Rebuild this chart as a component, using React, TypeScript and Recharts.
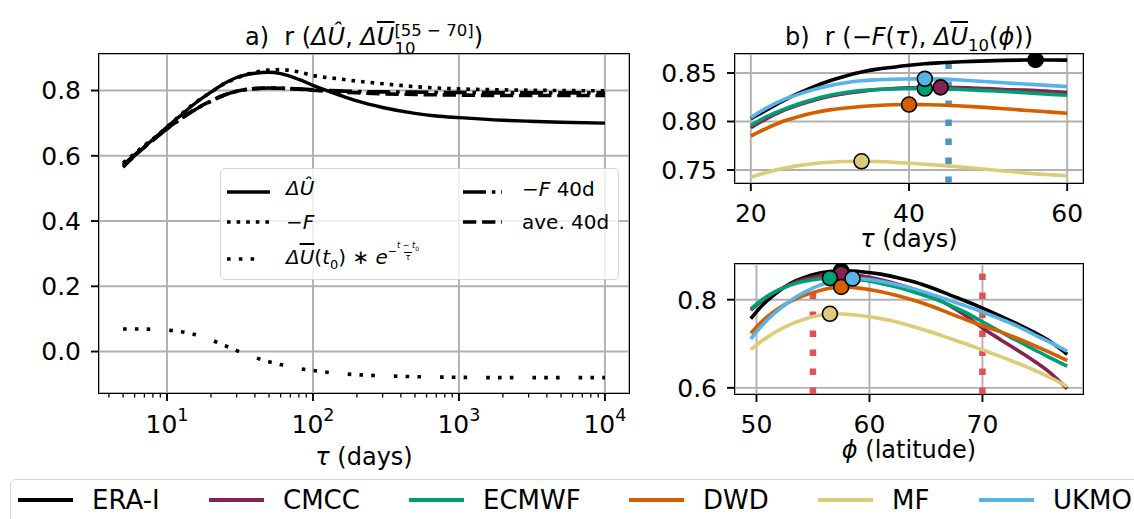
import React from 'react';
import { ComposedChart, Line, XAxis, YAxis, CartesianGrid, ReferenceLine } from 'recharts';

const FONT = "'DejaVu Sans', Verdana, sans-serif";

// ---------- Panel a ----------
const tauA = [5, 6, 7, 8, 10, 12, 15, 20, 25, 30, 40, 50, 60, 80, 100, 150, 200, 300, 500, 700, 1000, 2000, 3000, 5000, 10000];
const dUhat = [0.565, 0.6, 0.628, 0.65, 0.688, 0.718, 0.755, 0.795, 0.823, 0.84, 0.853, 0.856, 0.852, 0.834, 0.816, 0.787, 0.768, 0.748, 0.73, 0.722, 0.717, 0.709, 0.706, 0.703, 0.7];
const negF = [0.578, 0.607, 0.632, 0.652, 0.688, 0.72, 0.757, 0.795, 0.822, 0.838, 0.856, 0.863, 0.864, 0.857, 0.846, 0.836, 0.829, 0.821, 0.812, 0.808, 0.805, 0.802, 0.801, 0.8, 0.799];
const negF40 = [0.572, 0.603, 0.628, 0.648, 0.683, 0.708, 0.737, 0.767, 0.787, 0.798, 0.806, 0.808, 0.807, 0.805, 0.802, 0.799, 0.797, 0.796, 0.795, 0.794, 0.794, 0.793, 0.793, 0.793, 0.793];
const ave40 = [0.568, 0.6, 0.626, 0.647, 0.683, 0.709, 0.738, 0.768, 0.787, 0.798, 0.806, 0.808, 0.807, 0.804, 0.801, 0.796, 0.793, 0.79, 0.788, 0.787, 0.786, 0.785, 0.785, 0.785, 0.785];
const expDecay = [0.069, 0.069, 0.069, 0.068, 0.066, 0.062, 0.054, 0.036, 0.018, 0.003, -0.018, -0.031, -0.04, -0.052, -0.058, -0.067, -0.071, -0.074, -0.077, -0.078, -0.079, -0.08, -0.08, -0.08, -0.08];
const tauMajor = [10, 100, 1000, 10000];
const tauMinor = [4, 5, 6, 7, 8, 9, 20, 30, 40, 50, 60, 70, 80, 90, 200, 300, 400, 500, 600, 700, 800, 900, 2000, 3000, 4000, 5000, 6000, 7000, 8000, 9000];
const yTicksA = [0, 0.2, 0.4, 0.6, 0.8];

// ---------- Panel b ----------
const tauB = [20, 22, 24, 26, 28, 30, 32, 34, 36, 38, 40, 42, 44, 46, 48, 50, 52, 54, 56, 58, 60];
const rTauERA = [0.803, 0.812, 0.821, 0.829, 0.836, 0.842, 0.847, 0.851, 0.854, 0.856, 0.858, 0.8595, 0.8605, 0.8613, 0.862, 0.8625, 0.863, 0.8633, 0.8635, 0.8634, 0.8633];
const rTauCMCC = [0.7935, 0.803, 0.811, 0.817, 0.822, 0.826, 0.829, 0.831, 0.833, 0.834, 0.8347, 0.835, 0.8352, 0.835, 0.8345, 0.834, 0.833, 0.8325, 0.832, 0.831, 0.83];
const rTauECMWF = [0.796, 0.805, 0.812, 0.818, 0.823, 0.827, 0.83, 0.832, 0.833, 0.8335, 0.8338, 0.834, 0.8337, 0.8333, 0.8325, 0.8317, 0.831, 0.83, 0.829, 0.828, 0.827];
const rTauDWD = [0.785, 0.793, 0.8, 0.805, 0.809, 0.812, 0.814, 0.8155, 0.8165, 0.8172, 0.8175, 0.8173, 0.817, 0.8162, 0.8153, 0.8143, 0.8132, 0.812, 0.8108, 0.8097, 0.8085];
const rTauMF = [0.7425, 0.7475, 0.7515, 0.7545, 0.7567, 0.758, 0.7587, 0.759, 0.7587, 0.758, 0.757, 0.756, 0.7548, 0.7535, 0.752, 0.7505, 0.749, 0.7475, 0.746, 0.745, 0.744];
const rTauUKMO = [0.804, 0.814, 0.822, 0.828, 0.833, 0.837, 0.84, 0.842, 0.843, 0.8436, 0.8439, 0.844, 0.8437, 0.843, 0.842, 0.841, 0.84, 0.839, 0.838, 0.837, 0.836];
const markerTauB = [56, 44, 42, 40, 34, 42];
const xTicksB = [20, 40, 60];
const yTicksB = [0.75, 0.8, 0.85];
const tauRef = 45;

// ---------- Panel c ----------
const latC = [49.5, 50.5, 51.5, 52.5, 53.5, 54.5, 55.5, 56.5, 57.5, 58.5, 59.5, 61, 62.5, 64, 65.5, 67, 68.5, 70, 71.5, 73, 74.5, 76, 77.5];
const rLatERA = [0.757, 0.787, 0.81, 0.829, 0.843, 0.853, 0.86, 0.864, 0.8655, 0.865, 0.863, 0.858, 0.85, 0.84, 0.827, 0.812, 0.797, 0.781, 0.764, 0.746, 0.727, 0.705, 0.676];
const rLatCMCC = [0.776, 0.798, 0.815, 0.829, 0.84, 0.848, 0.854, 0.858, 0.859, 0.857, 0.853, 0.845, 0.835, 0.823, 0.808, 0.788, 0.764, 0.736, 0.711, 0.687, 0.662, 0.634, 0.598];
const rLatECMWF = [0.779, 0.8, 0.816, 0.828, 0.837, 0.843, 0.847, 0.849, 0.8485, 0.847, 0.844, 0.837, 0.828, 0.817, 0.804, 0.789, 0.771, 0.75, 0.729, 0.708, 0.688, 0.668, 0.649];
const rLatDWD = [0.724, 0.751, 0.772, 0.789, 0.802, 0.812, 0.82, 0.826, 0.829, 0.828, 0.825, 0.818, 0.809, 0.798, 0.785, 0.77, 0.755, 0.741, 0.728, 0.713, 0.697, 0.68, 0.662];
const rLatMF = [0.687, 0.707, 0.724, 0.738, 0.749, 0.758, 0.764, 0.768, 0.7675, 0.766, 0.763, 0.757, 0.749, 0.738, 0.726, 0.713, 0.7, 0.686, 0.672, 0.657, 0.641, 0.623, 0.603];
const rLatUKMO = [0.711, 0.742, 0.767, 0.788, 0.806, 0.82, 0.832, 0.84, 0.846, 0.848, 0.847, 0.842, 0.834, 0.824, 0.812, 0.799, 0.786, 0.772, 0.757, 0.741, 0.722, 0.703, 0.683];
const markerLatC = [57.5, 57.5, 56.5, 57.5, 56.5, 58.5];
const xTicksC = [50, 60, 70];
const yTicksC = [0.6, 0.8];
const latRefs = [55, 70];

// ---------- models ----------
const models = ['ERA-I', 'CMCC', 'ECMWF', 'DWD', 'MF', 'UKMO'];
const modelColors = ['#000000', '#882255', '#009E73', '#D55E00', '#DDCC77', '#56B4E9'];

const toPts = (xs: number[], ys: number[]) => xs.map((x, i) => ({ x, y: ys[i] }));
const seriesB = [rTauERA, rTauCMCC, rTauECMWF, rTauDWD, rTauMF, rTauUKMO];
const seriesC = [rLatERA, rLatCMCC, rLatECMWF, rLatDWD, rLatMF, rLatUKMO];

const GRID = '#b0b0b0';
const TICKFS = 25;

const makeDot = (markerX: number, color: string) => (props: any) => {
  const { cx, cy, payload, index } = props;
  if (!payload || payload.x !== markerX) return <g key={`d${index}`} />;
  return <circle key={`d${index}`} cx={cx} cy={cy} r={7.5} fill={color} stroke="#000" strokeWidth={1.6} />;
};

const LogTick = (props: any) => {
  const { x, y, payload } = props;
  const v = payload.value;
  const major = tauMajor.includes(v);
  const exp = Math.round(Math.log10(v));
  return (
    <g>
      <line x1={x} x2={x} y1={y} y2={y + (major ? 8 : 4.5)} stroke="#000" strokeWidth={major ? 1.9 : 1.3} />
      {major && (
        <text x={x} y={y + 40} textAnchor="middle" fontSize={TICKFS} fill="#000" fontFamily={FONT}>
          10<tspan dy={-12} fontSize={17.5}>{exp}</tspan>
        </text>
      )}
    </g>
  );
};

const Frame = ({ l, t, r, b }: { l: number; t: number; r: number; b: number }) => (
  <div style={{ position: 'absolute', left: l - 1, top: t - 1, width: r - l + 2, height: b - t + 2, border: '1.9px solid #000', boxSizing: 'border-box', pointerEvents: 'none' }} />
);

const Handle = ({ x, y, w, color, width, dash }: any) => (
  <svg style={{ position: 'absolute', left: x, top: y - 6, overflow: 'visible' }} width={w} height={12}>
    <line x1={0} x2={w} y1={6} y2={6} stroke={color} strokeWidth={width} strokeDasharray={dash} />
  </svg>
);

const Txt = ({ x, y, size, children, center, w }: any) => {
  const h = Math.round(size * 1.15);
  return (
    <div style={{ position: 'absolute', left: x, top: y - h / 2, height: h, lineHeight: `${h}px`, fontSize: size, whiteSpace: 'pre', width: w, textAlign: center ? 'center' : 'left', color: '#000' }}>
      {children}
    </div>
  );
};

const OverU = ({ hat }: { hat?: boolean }) =>
  hat ? <i>Û</i> : <i style={{ textDecoration: 'overline' }}>U</i>;

export default function App() {
  const dashDot = '23 5.8 3.6 5.8';
  const dashed = '13.3 5.8';
  const dotted = '3.6 6';
  const sparse = '3.6 8.2 3.6 8.2 3.6 19';
  return (
    <div style={{ position: 'absolute', left: 0, top: 0, width: 1134, height: 519, overflow: 'hidden', background: '#fff', fontFamily: FONT }}>
      {/* Panel a */}
      <div style={{ position: 'absolute', left: 0, top: 0 }}>
        <ComposedChart width={660} height={470} margin={{ top: 54, right: 31, bottom: 0, left: 0 }}>
          <CartesianGrid xAxisId="grid" stroke={GRID} strokeWidth={1.9} />
          <XAxis xAxisId="main" type="number" dataKey="x" scale="log" domain={[3.42, 14620]} allowDataOverflow
            ticks={[...tauMinor, ...tauMajor].sort((a, b) => a - b)} interval={0} tickSize={0} tickMargin={0}
            tickLine={false} axisLine={false} height={77} tick={<LogTick />} />
          <XAxis xAxisId="grid" hide height={0} type="number" dataKey="x" scale="log" domain={[3.42, 14620]} allowDataOverflow ticks={tauMajor} />
          <YAxis type="number" domain={[-0.127, 0.912]} allowDataOverflow ticks={yTicksA} width={99}
            tickFormatter={(v: number) => v.toFixed(1)} tickSize={8} tickMargin={10} axisLine={false}
            tickLine={{ stroke: '#000', strokeWidth: 1.9 }} tick={{ fontSize: TICKFS, fill: '#000' }} />
          <Line xAxisId="main" data={toPts(tauA, dUhat)} dataKey="y" type="monotone" stroke="#000" strokeWidth={3.4} dot={false} isAnimationActive={false} />
          <Line xAxisId="main" data={toPts(tauA, negF)} dataKey="y" type="monotone" stroke="#000" strokeWidth={3.6} strokeDasharray={dotted} dot={false} isAnimationActive={false} />
          <Line xAxisId="main" data={toPts(tauA, expDecay)} dataKey="y" type="monotone" stroke="#000" strokeWidth={3.6} strokeDasharray={sparse} dot={false} isAnimationActive={false} />
          <Line xAxisId="main" data={toPts(tauA, negF40)} dataKey="y" type="monotone" stroke="#000" strokeWidth={3.6} strokeDasharray={dashDot} dot={false} isAnimationActive={false} />
          <Line xAxisId="main" data={toPts(tauA, ave40)} dataKey="y" type="monotone" stroke="#000" strokeWidth={3.6} strokeDasharray={dashed} dot={false} isAnimationActive={false} />
        </ComposedChart>
      </div>
      <Frame l={99} t={54} r={629} b={393} />

      {/* Panel a legend */}
      <div style={{ position: 'absolute', left: 220, top: 168, width: 399, height: 112, border: '1.5px solid #d6d6d6', borderRadius: 5, background: 'rgba(255,255,255,0.8)', boxSizing: 'border-box' }} />
      <Handle x={227} y={191.5} w={43} color="#000" width={3.4} />
      <Handle x={227} y={221.5} w={43} color="#000" width={3.6} dash={dotted} />
      <Handle x={227} y={259} w={43} color="#000" width={3.6} dash={sparse} />
      <Handle x={463} y={191.5} w={39} color="#000" width={3.6} dash={dashDot} />
      <Handle x={463} y={221.5} w={39} color="#000" width={3.6} dash={dashed} />
      <Txt x={286} y={188} size={20}><i>ΔÛ</i></Txt>
      <Txt x={286} y={222} size={20}>−<i>F</i></Txt>
      <Txt x={286} y={257} size={20}>
        <i>Δ</i><OverU />(<i>t</i><sub style={{ fontSize: 13 }}>0</sub>) ∗ <i>e</i>
        <span style={{ fontSize: 11, position: 'relative', top: -9 }}>
          −<span style={{ display: 'inline-flex', flexDirection: 'column', alignItems: 'center', verticalAlign: 'middle', lineHeight: '9px', fontSize: 8 }}>
            <span><i>t</i> − <i>t</i><sub style={{ fontSize: 6 }}>0</sub></span>
            <span style={{ borderTop: '1px solid #000', padding: '0 2px' }}><i>τ</i></span>
          </span>
        </span>
      </Txt>
      <Txt x={522} y={189} size={20}>−<i>F</i> 40d</Txt>
      <Txt x={522} y={222} size={20}>ave. 40d</Txt>

      {/* Title a */}
      <Txt x={99} w={530} y={37} size={24} center>
        a)  r (<i>ΔÛ</i>, <i>Δ</i><OverU />
        <span style={{ position: 'relative', display: 'inline-block', fontSize: 16.5, lineHeight: '20px', whiteSpace: 'nowrap' }}>
          <span style={{ position: 'relative', top: -9 }}>[55 − 70]</span>
          <span style={{ position: 'absolute', left: 0, top: 9 }}>10</span>
        </span>)
      </Txt>
      <Txt x={99} w={530} y={457} size={24} center><i>τ</i> (days)</Txt>

      {/* Panel b */}
      <div style={{ position: 'absolute', left: 640, top: 0 }}>
        <ComposedChart width={494} height={250} margin={{ top: 54, right: 51, bottom: 0, left: 0 }}>
          <CartesianGrid stroke={GRID} strokeWidth={1.9} />
          <XAxis type="number" dataKey="x" domain={[18, 62]} allowDataOverflow ticks={xTicksB} interval={0} height={67}
            tickSize={8} tickMargin={13} axisLine={false} tickLine={{ stroke: '#000', strokeWidth: 1.9 }} tick={{ fontSize: TICKFS, fill: '#000' }} />
          <YAxis type="number" domain={[0.7366, 0.8696]} allowDataOverflow ticks={yTicksB} width={95}
            tickFormatter={(v: number) => v.toFixed(2)} tickSize={8} tickMargin={10} axisLine={false}
            tickLine={{ stroke: '#000', strokeWidth: 1.9 }} tick={{ fontSize: TICKFS, fill: '#000' }} />
          <ReferenceLine x={tauRef} stroke="#4c92c3" strokeWidth={6.5} strokeDasharray="6.5 12.5" />
          {seriesB.map((s, i) => (
            <Line key={models[i]} data={toPts(tauB, s)} dataKey="y" type="monotone" stroke={modelColors[i]} strokeWidth={3.6}
              dot={makeDot(markerTauB[i], modelColors[i])} isAnimationActive={false} />
          ))}
        </ComposedChart>
      </div>
      <Frame l={735} t={54} r={1083} b={183} />
      <Txt x={735} w={348} y={37} size={24} center>
        b)  r (−<i>F</i>(<i>τ</i>), <i>Δ</i><OverU /><sub style={{ fontSize: 16.5 }}>10</sub>(<i>ϕ</i>))
      </Txt>
      <Txt x={735} w={348} y={239} size={24} center><i>τ</i> (days)</Txt>

      {/* Panel c */}
      <div style={{ position: 'absolute', left: 640, top: 250 }}>
        <ComposedChart width={494} height={220} margin={{ top: 14, right: 51, bottom: 0, left: 0 }}>
          <CartesianGrid stroke={GRID} strokeWidth={1.9} />
          <XAxis type="number" dataKey="x" domain={[48.1, 78.9]} allowDataOverflow ticks={xTicksC} interval={0} height={76}
            tickSize={8} tickMargin={13} axisLine={false} tickLine={{ stroke: '#000', strokeWidth: 1.9 }} tick={{ fontSize: TICKFS, fill: '#000' }} />
          <YAxis type="number" domain={[0.586, 0.881]} allowDataOverflow ticks={yTicksC} width={95}
            tickFormatter={(v: number) => v.toFixed(1)} tickSize={8} tickMargin={10} axisLine={false}
            tickLine={{ stroke: '#000', strokeWidth: 1.9 }} tick={{ fontSize: TICKFS, fill: '#000' }} />
          {latRefs.map((v) => (
            <ReferenceLine key={v} x={v} stroke="#de5253" strokeWidth={6.5} strokeDasharray="6.5 12.5" />
          ))}
          {seriesC.map((s, i) => (
            <Line key={models[i]} data={toPts(latC, s)} dataKey="y" type="monotone" stroke={modelColors[i]} strokeWidth={3.6}
              dot={makeDot(markerLatC[i], modelColors[i])} isAnimationActive={false} />
          ))}
        </ComposedChart>
      </div>
      <Frame l={735} t={264} r={1083} b={394} />
      <Txt x={735} w={348} y={450} size={24} center><i>ϕ</i> (latitude)</Txt>

      {/* Bottom legend */}
      <div style={{ position: 'absolute', left: 10, top: 479, width: 1140, height: 70, border: '1.5px solid #d6d6d6', borderRadius: 6, background: '#fff', boxSizing: 'border-box' }} />
      {models.map((m, i) => {
        const hx = [18, 209, 409, 629, 818, 979][i];
        return (
          <React.Fragment key={m}>
            <Handle x={hx} y={500} w={55} color={modelColors[i]} width={4} />
            <Txt x={hx + 74} y={500} size={26}>{m}</Txt>
          </React.Fragment>
        );
      })}
    </div>
  );
}
